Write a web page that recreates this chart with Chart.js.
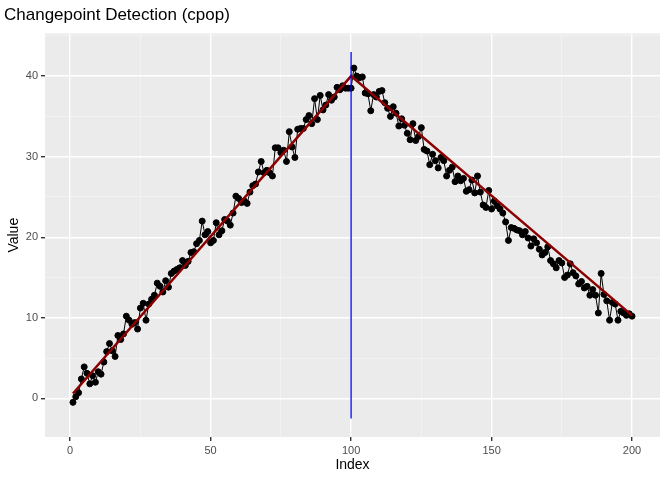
<!DOCTYPE html>
<html><head><meta charset="utf-8">
<script src="https://cdn.jsdelivr.net/npm/chart.js@4"></script>
<style>body{margin:0;background:#fff}#w{width:672px;height:480px}</style>
</head><body><div id="w"><canvas id="c"></canvas></div>
<script>
const values=[-0.5,0.2,0.7,2.4,3.9,3.1,1.8,2.8,2.0,3.3,3.0,4.5,5.8,6.8,5.9,5.2,7.8,7.3,8.0,10.2,9.7,9.2,9.4,8.6,11.2,11.8,9.7,11.7,12.3,12.8,14.3,13.9,13.2,14.6,13.8,15.5,15.8,16.0,16.2,17.1,16.5,17.0,18.1,18.2,19.2,19.6,22.0,20.3,20.7,19.3,19.6,21.8,20.3,20.8,22.2,22.0,21.5,23.0,25.1,24.8,24.3,24.5,24.2,25.6,26.4,26.6,28.1,29.4,28.0,28.3,28.0,27.6,31.1,31.1,30.5,30.8,29.4,33.1,31.2,29.9,33.4,33.5,33.5,34.6,35.1,34.1,37.2,34.6,37.6,35.8,36.4,37.7,37.0,37.4,38.6,38.3,38.8,38.5,38.5,38.5,
41.0,40.0,39.8,39.9,37.9,37.8,35.7,37.7,37.4,38.1,38.2,36.7,36.0,35.0,36.2,35.4,33.8,34.7,33.9,32.9,32.1,34.1,32.0,32.5,33.6,30.9,30.7,29.0,30.3,29.5,28.6,29.9,29.5,27.6,28.3,28.7,26.9,27.6,27.0,27.3,25.7,25.9,27.1,25.5,27.6,25.6,24.0,23.7,25.8,23.5,24.5,23.9,23.5,23.0,21.9,19.6,21.2,21.1,20.9,20.8,20.3,20.7,19.9,18.9,19.8,19.3,18.5,17.8,18.1,18.8,17.1,16.7,16.2,17.1,16.8,15.0,15.3,16.7,15.6,15.2,14.2,14.5,13.7,13.9,12.8,13.5,12.8,10.6,15.5,12.9,12.1,9.7,11.9,11.7,9.7,10.8,10.6,10.3,10.5,10.2];
const fitX=[1,100,200];
const fitY=[0.6,40.0,10.3];
const cpX=100;
const cpRange=[-2.5,43];
const xTicks=[0,50,100,150,200];
const yTicks=[0,10,20,30,40];
const pts=values.map((v,i)=>({x:i+1,y:v}));
const fit=fitX.map((x,i)=>({x:x,y:fitY[i]}));
const bg={id:'bg',beforeDraw(c){const a=c.chartArea,g=c.ctx;g.save();g.fillStyle='#EBEBEB';g.fillRect(a.left,a.top,a.right-a.left,a.bottom-a.top);g.restore();}};
const isMaj=(v,arr)=>arr.includes(v);
function axis(min,max,step,maj,fixW,title){
 return {type:'linear',min:min,max:max,
  afterBuildTicks(s){const t=[];for(let v=Math.ceil(min/step)*step;v<=max;v+=step)t.push({value:v});s.ticks=t;},
  ticks:{autoSkip:false,color:'#4D4D4D',font:{family:'Liberation Sans',size:11},padding:3,
   callback:v=>isMaj(v,maj)?String(v):''},
  grid:{color:c=>isMaj(c.tick.value,maj)?'#FFFFFF':'#F5F5F5',lineWidth:c=>isMaj(c.tick.value,maj)?1.4:0.7,
   tickColor:c=>isMaj(c.tick.value,maj)?'#333333':'rgba(0,0,0,0)',tickLength:4,drawTicks:true},
  border:{display:false},
  title:{display:true,text:title,color:'#000',font:{family:'Liberation Sans',size:14},padding:{top:2,bottom:2}},
  afterFit:fixW};
}
new Chart(document.getElementById('c'),{type:'scatter',
 data:{datasets:[
  {data:pts,showLine:true,borderColor:'#000',borderWidth:1,backgroundColor:'#000',pointRadius:3,pointHoverRadius:3,order:3},
  {data:fit,showLine:true,borderColor:'#8B0000',borderWidth:2.5,pointRadius:0,order:2},
  {data:[{x:cpX,y:cpRange[0]},{x:cpX,y:cpRange[1]}],showLine:true,borderColor:'#0000FF',borderWidth:1.3,pointRadius:0,order:1}
 ]},
 plugins:[bg],
 options:{responsive:true,maintainAspectRatio:false,animation:false,
  layout:{padding:{left:4,right:12,top:0,bottom:4}},
  plugins:{legend:{display:false},tooltip:{enabled:false},
   title:{display:true,text:'Changepoint Detection (cpop)',align:'start',color:'#000',font:{family:'Liberation Sans',size:17,weight:'normal'},padding:{top:5,bottom:8}}},
  scales:{
   x:axis(-8.95,209.95,25,xTicks,s=>{s.height=39;},'Index'),
   y:axis(-4.8,45.3,5,yTicks,s=>{s.width=41;},'Value')
  }}});
</script></body></html>
